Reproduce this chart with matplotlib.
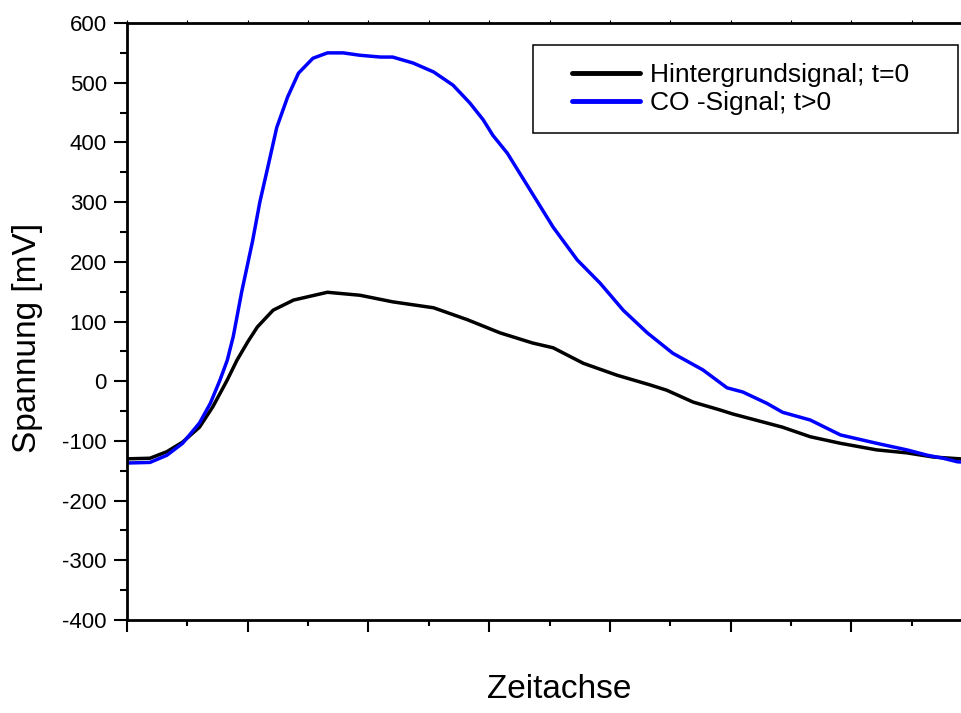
# -*- coding:utf-8 -*-

import numpy as np
import matplotlib.pyplot as plt
from matplotlib.patches import Rectangle
from matplotlib.ticker import MultipleLocator

plt.rcParams['font.family'] = ['Liberation Sans', 'DejaVu Sans']
plt.rcParams['axes.unicode_minus'] = False

# Zeitachse (arbitrary units, one major tick = 1) and Spannung in mV
x_hinter = [0.0, 0.19, 0.33, 0.46, 0.60, 0.71, 0.83, 0.91, 1.00, 1.08, 1.21, 1.38, 1.66,
            1.93, 2.20, 2.54, 2.82, 3.09, 3.36, 3.53, 3.78, 4.06, 4.33, 4.47,
            4.69, 4.91, 5.02, 5.30, 5.43, 5.66, 5.91, 6.21, 6.46, 6.68, 6.90, 7.0]
y_hinter = [-130, -129, -118, -102, -77, -43, 2, 35, 66, 91, 119, 136, 149,
            144, 133, 123, 103, 81, 64, 56, 30, 10, -6, -15,
            -35, -48, -55, -70, -77, -93, -104, -115, -120, -127, -130, -131]

x_co = [0.0, 0.19, 0.33, 0.46, 0.60, 0.69, 0.77, 0.83, 0.88, 0.95, 1.04, 1.10,
        1.17, 1.24, 1.33, 1.42, 1.54, 1.66, 1.79, 1.93, 2.10, 2.20, 2.37,
        2.54, 2.70, 2.84, 2.95, 3.03, 3.15, 3.34, 3.53, 3.73, 3.92, 4.11,
        4.31, 4.52, 4.77, 4.97, 5.10, 5.30, 5.43, 5.66, 5.91, 6.21, 6.46,
        6.63, 6.76, 6.88, 7.0]
y_co = [-137, -136, -124, -104, -70, -37, 2, 35, 75, 150, 235, 300,
        362, 425, 476, 516, 541, 550, 550, 546, 543, 543, 533,
        518, 496, 466, 438, 412, 382, 320, 258, 203, 164, 119,
        81, 47, 19, -11, -18, -37, -52, -65, -90, -104, -115,
        -124, -129, -135, -136]

labels = ['Hintergrundsignal; t=0', 'CO -Signal; t>0']


def plot():
    fig = plt.figure(figsize=(9.61, 7.13), dpi=100)
    ax = fig.add_axes([0.1322, 0.1304, 0.8793, 0.8373])

    ax.plot(x_hinter, y_hinter, color='black', lw=2.5, label=labels[0],
            solid_joinstyle='round', solid_capstyle='round')
    ax.plot(x_co, y_co, color='#0000ff', lw=2.5, label=labels[1],
            solid_joinstyle='round', solid_capstyle='round')

    ax.set_xlim(0, 7)
    ax.set_ylim(-400, 600)

    # Achsen wie im Origin-Plot
    ax.xaxis.set_major_locator(MultipleLocator(1))
    ax.xaxis.set_minor_locator(MultipleLocator(0.5))
    ax.yaxis.set_major_locator(MultipleLocator(100))
    ax.yaxis.set_minor_locator(MultipleLocator(50))
    ax.set_xticklabels([])

    ax.tick_params(axis='x', which='major', direction='out', length=8.5, width=1.5,
                   top=True, labeltop=False)
    ax.tick_params(axis='x', which='minor', direction='out', length=4, width=1.5, top=True)
    ax.tick_params(axis='y', which='major', direction='out', length=9.5, width=1.5,
                   labelsize=16, pad=5)
    ax.tick_params(axis='y', which='minor', direction='out', length=5, width=1.5)
    for t in ax.xaxis.get_major_ticks() + ax.xaxis.get_minor_ticks():
        t.tick2line.set_markersize(2)
        t.tick2line.set_markeredgewidth(0.8)
        t.tick2line.set_color('#888888')

    for s in ax.spines.values():
        s.set_linewidth(2.0)

    ax.set_ylabel('Spannung [mV]', fontsize=24, va='center')
    ax.yaxis.set_label_coords(28 / 961, (713 - 338) / 713, transform=fig.transFigure)
    fig.text(559 / 961, (713 - 690) / 713, 'Zeitachse', fontsize=24,
             ha='center', va='center')

    # Legende
    leg = fig.legend(loc='center left', bbox_to_anchor=(572 / 961, (713 - 89) / 713),
                     frameon=False, fontsize=19, borderpad=0, borderaxespad=0,
                     handlelength=2.58, handletextpad=0.38, labelspacing=0.15)
    for line in leg.get_lines():
        line.set_linewidth(3.5)
    fig.patches.append(Rectangle((533 / 961, (713 - 133) / 713), 425 / 961, 88 / 713,
                                 transform=fig.transFigure, fill=False,
                                 edgecolor='black', lw=1.1))

    fig.savefig('out.png', dpi=100)


if __name__ == '__main__':
    plot()
